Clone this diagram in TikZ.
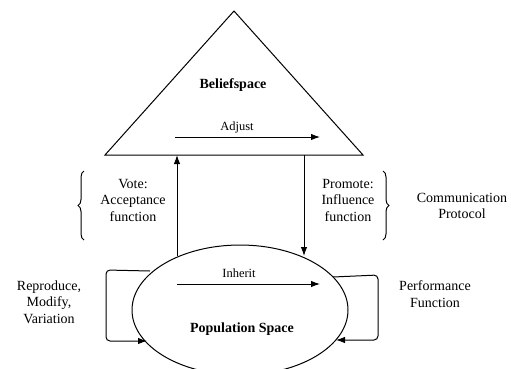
\documentclass[tikz,border=0pt]{standalone}
\usepackage{fontspec}
\setmainfont{Liberation Serif}
\usetikzlibrary{shapes,arrows.meta,decorations.pathreplacing}

\tikzset{
  txt/.style={font=\fontsize{14}{16.5}\selectfont, align=center, inner sep=0pt},
  small/.style={font=\fontsize{12.5}{15}\selectfont, inner sep=0pt},
  heading/.style={font=\fontsize{14}{16.5}\selectfont\bfseries, inner sep=0pt},
  brc/.style={decorate, decoration={brace, amplitude=6pt}},
}

\begin{document}
\begin{tikzpicture}[x=1pt, y=-1pt, line width=1pt, >={Latex[length=9pt,width=6.5pt]}]
   \clip (0,0) rectangle (511,368);
   \coordinate (T)  at (234,11);
   \coordinate (BL) at (105,155);
   \coordinate (BR) at (363,155);
   \draw [line join=miter] (T) -- (BL) -- (BR) -- cycle;
   \node [ellipse, draw, minimum width=216pt, minimum height=130pt, inner sep=0pt] (P) at (240,310) {};

   \node [heading] (BS)  at (233,85)  {Beliefspace};
   \node [small]   (Adj) at (237,127) {Adjust};
   \node [small]   (Inh) at (239,273) {Inherit};
   \node [heading] (PS)  at (242,329) {Population Space};

   \coordinate (A1) at (175,137);
   \coordinate (A2) at (320,137);
   \draw [->] (A1) -- (A2);
   \coordinate (I1) at (177,284);
   \coordinate (I2) at (320,284);
   \draw [->] (I1) -- (I2);

   \coordinate (VB) at (177,256);
   \coordinate (VT) at (177,155);
   \draw [->] (VB) -- (VT);
   \coordinate (PT) at (304,155);
   \coordinate (PB) at (304,256);
   \draw [->] (PT) -- (PB);

   \coordinate (L1) at (150,271);
   \coordinate (L2) at (147,341);
   \draw [->, rounded corners=4pt] (L1) -- (106,270) -- (106,341) -- (L2);
   \coordinate (R1) at (333,277);
   \coordinate (R2) at (336,340);
   \draw [->, rounded corners=4pt] (R1) -- (378,275) -- (378,340) -- (R2);

   \draw [brc] (84,240) -- (84,171);
   \draw [brc] (383,171) -- (383,240);

   \node [txt] (Vote) at (133,200) {Vote:\\Acceptance\\function};
   \node [txt] (Prom) at (348,200) {Promote:\\Influence\\function};
   \node [txt] (Comm) at (462,206) {Communication\\Protocol};
   \node [txt] (Rep)  at (49,302)  {Reproduce,\\Modify,\\Variation};
   \node [txt] (Perf) at (435,294) {Performance\\Function};
\end{tikzpicture}
\end{document}
